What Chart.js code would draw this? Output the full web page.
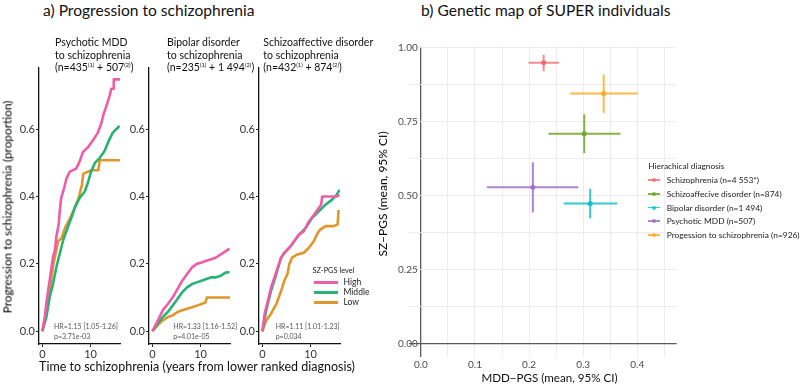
<!DOCTYPE html>
<html><head><meta charset="utf-8">
<script src="https://cdn.jsdelivr.net/npm/chart.js@4"></script>
<style>
body{margin:0;background:#fff;width:800px;height:387px;position:relative;overflow:hidden;font-family:Lato,'Open Sans',sans-serif;color:#1a1a1a}
canvas{position:absolute}
.t{position:absolute;white-space:nowrap}
.big{font-size:15.6px;line-height:15px;color:#111}
.sub{font-size:10.5px;line-height:12.5px;color:#111}
.sub sup{font-size:5.8px;vertical-align:4px;line-height:0}
.ax{font-size:12.5px;line-height:13px;color:#111}
.rot{transform:translate(-50%,-50%) rotate(-90deg)}
.ctr{transform:translate(-50%,-50%)}
.hr{font-size:7px;line-height:9.5px;color:#555}
.lg{font-size:8.5px;line-height:9px;color:#222}
.lgb{font-size:8.4px;line-height:10px;color:#222}
.sw{position:absolute;height:3px}
.swb{position:absolute;height:1.6px;width:12px}
.dot{position:absolute;width:4px;height:4px;border-radius:50%}
</style></head><body>
<canvas id="c1" width="125" height="300" style="left:0px;top:60px"></canvas>
<canvas id="c2" width="125" height="300" style="left:110px;top:60px"></canvas>
<canvas id="c3" width="125" height="300" style="left:220.3px;top:60px"></canvas>
<canvas id="cb" width="420" height="357" style="left:380px;top:30px"></canvas>
<div id="txt"></div>
<script>
// ---------- data: panel a (Kaplan-Meier cumulative progression) ----------
const kmXTicks = [0, 10];
const kmYTicks = [0, 0.2, 0.4, 0.6];
const levels = ['High', 'Middle', 'Low'];
const kmColors = ['#EF5DA8', '#27B373', '#E0962A'];

const mddHigh = [[0,0],[0.5,0.04],[0.8,0.08],[1.2,0.12],[1.7,0.17],[2.2,0.22],[2.6,0.24],[2.9,0.28],[3.4,0.32],[3.6,0.356],[3.9,0.395],[4.3,0.415],[4.5,0.424],[5.0,0.454],[5.7,0.474],[7.0,0.483],[7.7,0.503],[8.4,0.532],[9.5,0.547],[10.5,0.567],[11.5,0.59],[12.2,0.616],[12.6,0.64],[13.3,0.67],[13.95,0.70],[14.3,0.72],[14.8,0.72],[14.8,0.748],[16.1,0.748]];
const mddMiddle = [[0,0],[0.8,0.04],[1.5,0.10],[2.2,0.14],[2.9,0.19],[3.6,0.23],[4.3,0.27],[5.3,0.31],[6.0,0.336],[6.7,0.366],[7.7,0.395],[8.8,0.415],[9.5,0.444],[10.1,0.474],[10.9,0.50],[11.9,0.515],[12.9,0.535],[13.6,0.56],[14.6,0.59],[16.0,0.61]];
const mddLow = [[0,0],[0.9,0.07],[1.6,0.13],[2.3,0.2],[3.0,0.248],[3.3,0.268],[4.0,0.277],[4.7,0.307],[5.4,0.326],[6.4,0.356],[7.5,0.395],[8.2,0.434],[8.5,0.468],[10.2,0.478],[11.6,0.478],[11.9,0.508],[16.1,0.508]];

const bipHigh = [[0,0],[1.15,0.032],[2.15,0.062],[3.2,0.081],[4.2,0.10],[5.2,0.125],[6.2,0.15],[7.2,0.17],[8.2,0.189],[9.2,0.2],[10.2,0.204],[11.2,0.209],[12.2,0.214],[13.2,0.219],[14.2,0.228],[15.2,0.238],[16.0,0.245]];
const bipMiddle = [[0,0],[1.15,0.023],[2.15,0.042],[3.2,0.057],[4.2,0.076],[5.2,0.096],[6.2,0.116],[7.2,0.13],[8.2,0.14],[9.2,0.145],[10.2,0.15],[11.2,0.155],[12.2,0.16],[13.2,0.16],[14.2,0.165],[15.2,0.174],[16.0,0.176]];
const bipLow = [[0,0],[1.15,0.018],[2.15,0.032],[3.2,0.042],[4.2,0.047],[5.2,0.057],[6.2,0.062],[7.2,0.067],[8.2,0.071],[9.2,0.076],[10.2,0.081],[11.0,0.085],[11.3,0.10],[16.1,0.10]];

const sadHigh = [[0,0],[0.47,0.052],[1.15,0.091],[1.8,0.13],[2.5,0.16],[3.2,0.19],[3.9,0.219],[4.55,0.233],[5.6,0.248],[6.6,0.268],[7.6,0.287],[8.6,0.297],[9.65,0.326],[10.7,0.346],[11.7,0.366],[12.2,0.376],[12.4,0.40],[15.4,0.40],[16.0,0.405]];
const sadMiddle = [[0,0],[0.8,0.062],[1.8,0.12],[2.9,0.17],[3.9,0.219],[4.9,0.238],[6.2,0.258],[7.6,0.287],[9.0,0.307],[10.3,0.336],[11.7,0.356],[13.1,0.376],[14.4,0.39],[15.4,0.405],[16.0,0.42]];
const sadLow = [[0,0],[0.8,0.032],[1.8,0.052],[2.9,0.081],[3.9,0.12],[4.55,0.15],[5.2,0.17],[5.6,0.2],[6.2,0.219],[7.3,0.228],[8.6,0.233],[9.65,0.248],[10.7,0.268],[11.3,0.287],[12.0,0.302],[13.1,0.312],[14.8,0.312],[15.6,0.317],[15.8,0.36]];

const kmTitles = [['Psychotic MDD','to schizophrenia','(n=435<sup>(1)</sup> + 507<sup>(2)</sup>)'],
                  ['Bipolar disorder','to schizophrenia','(n=235<sup>(1)</sup> + 1 494<sup>(2)</sup>)'],
                  ['Schizoaffective disorder','to schizophrenia','(n=432<sup>(1)</sup> + 874<sup>(2)</sup>)']];
const kmHR = [['HR=1.15 [1.05-1.26]','p=3.71e-03'],['HR=1.33 [1.16-1.52]','p=4.01e-05'],['HR=1.11 [1.01-1.23]','p=0.034']];

// ---------- data: panel b (genetic map) ----------
const mapGroups = ['Schizophrenia (n=4 553*)','Schizoaffecive disorder (n=874)','Bipolar disorder (n=1 494)','Psychotic MDD (n=507)','Progession to schizophrenia (n=926)'];
const mapColors = ['rgba(242,100,100,0.75)','rgba(112,166,40,0.85)','rgba(0,190,200,0.8)','rgba(160,112,200,0.85)','rgba(255,168,30,0.8)'];
const mddMean = [0.227, 0.302, 0.313, 0.207, 0.338];
const mddLo   = [0.199, 0.236, 0.264, 0.122, 0.276];
const mddHi   = [0.255, 0.369, 0.363, 0.291, 0.401];
const szMean  = [0.950, 0.710, 0.474, 0.529, 0.846];
const szLo    = [0.921, 0.644, 0.425, 0.444, 0.781];
const szHi    = [0.977, 0.776, 0.524, 0.614, 0.910];
const mapXTicks = [0,0.05,0.1,0.15,0.2,0.25,0.3,0.35,0.4,0.45];
const mapYTicks = [0,0.125,0.25,0.375,0.5,0.625,0.75,0.875,1];

// ---------- charts ----------
function km(id, sets){
  new Chart(document.getElementById(id), {
    type:'line',
    data:{datasets: sets.map((d,i)=>({label:levels[i], data:d.map(p=>({x:p[0],y:p[1]})), borderColor:kmColors[i], borderWidth:2.6, pointRadius:0, tension:0, fill:false, borderJoinStyle:'round'}))},
    options:{responsive:false, animation:false, devicePixelRatio:1,
      layout:{padding:{top:5,right:5,left:0,bottom:0}},
      plugins:{legend:{display:false},tooltip:{enabled:false}},
      scales:{
        x:{type:'linear', min:-0.7, max:16.1,
           afterFit:s=>{s.height=16;},
           afterBuildTicks:s=>{s.ticks=kmXTicks.map(v=>({value:v}));},
           ticks:{callback:v=>String(v), font:{family:'Lato',size:11}, color:'#333', padding:1, maxRotation:0, autoSkip:false},
           grid:{drawOnChartArea:false, tickLength:3, color:'#222'},
           border:{color:'#111', width:1.3}},
        y:{type:'linear', min:-0.038, max:0.783,
           afterFit:s=>{s.width=39;},
           afterBuildTicks:s=>{s.ticks=kmYTicks.map(v=>({value:v}));},
           ticks:{callback:v=>v.toFixed(1), font:{family:'Lato',size:11}, color:'#333', padding:1},
           grid:{drawOnChartArea:false, tickLength:3, color:'#222'},
           border:{color:'#111', width:1.3}}
      }}});
}
km('c1',[mddHigh,mddMiddle,mddLow]);
km('c2',[bipHigh,bipMiddle,bipLow]);
km('c3',[sadHigh,sadMiddle,sadLow]);

const mapSets = [];
mapGroups.forEach((g,i)=>{
  mapSets.push({label:g, data:[{x:mddLo[i],y:szMean[i]},{x:mddHi[i],y:szMean[i]}], borderColor:mapColors[i], borderWidth:2, showLine:true, pointRadius:0});
  mapSets.push({label:g, data:[{x:mddMean[i],y:szLo[i]},{x:mddMean[i],y:szHi[i]}], borderColor:mapColors[i], borderWidth:2, showLine:true, pointRadius:0});
  mapSets.push({label:g, data:[{x:mddMean[i],y:szMean[i]}], backgroundColor:mapColors[i], borderColor:mapColors[i], pointRadius:2.2, showLine:false});
});
new Chart(document.getElementById('cb'), {
  type:'scatter',
  data:{datasets:mapSets},
  options:{responsive:false, animation:false, devicePixelRatio:1,
    layout:{padding:{top:16.7,right:123.3,left:0,bottom:0}},
    plugins:{legend:{display:false},tooltip:{enabled:false}},
    scales:{
      x:{type:'linear', min:-0.022, max:0.473,
         afterFit:s=>{s.height=30.3;},
         afterBuildTicks:s=>{s.ticks=mapXTicks.map(v=>({value:v}));},
         ticks:{callback:v=>(Math.abs(v*10-Math.round(v*10))<1e-6? v.toFixed(1):''), font:{family:'Lato',size:10}, color:'#4D4D4D', padding:2, maxRotation:0, autoSkip:false},
         grid:{drawTicks:false, color:c=>c.tick&&c.tick.value===0?'#5a5a5a':'#EBEBEB', lineWidth:c=>c.tick&&c.tick.value===0?1.3:0.9},
         border:{display:false}},
      y:{type:'linear', min:-0.043, max:1.004,
         afterFit:s=>{s.width=29;},
         afterBuildTicks:s=>{s.ticks=mapYTicks.map(v=>({value:v}));},
         ticks:{callback:v=>(Math.abs(v*4-Math.round(v*4))<1e-6? v.toFixed(2):''), font:{family:'Lato',size:10}, color:'#4D4D4D', mirror:true, padding:-11, autoSkip:false},
         grid:{drawTicks:false, color:c=>c.tick&&c.tick.value===0?'#5a5a5a':'#EBEBEB', lineWidth:c=>c.tick&&c.tick.value===0?1.3:0.9},
         border:{display:false}}
    }}});

// ---------- text ----------
const T = document.getElementById('txt');
function add(html, cls, style){ const d=document.createElement('div'); d.className='t '+cls; d.innerHTML=html; d.setAttribute('style',style); T.appendChild(d); return d; }
add('a) Progression to schizophrenia','big','left:43px;top:3px');
add('b) Genetic map of SUPER individuals','big','left:421px;top:3px');
const subLeft=[55,167,263.3];
const hrLeft=[54,173.3,275.7];
kmTitles.forEach((lines,i)=>{
  add(lines.join('<br>'),'sub','left:'+subLeft[i]+'px;top:36px');
  add(kmHR[i].join('<br>'),'hr','left:'+hrLeft[i]+'px;top:322px');
});
add('Progression to schizophrenia (proportion)','ax rot','left:7px;top:207px;font-size:11.8px;color:#000');
add('Time to schizophrenia (years from lower ranked diagnosis)','ax ctr','left:197px;top:366px');
add('SZ\u2212PGS (mean, 95% CI)','ax rot','left:382px;top:194px;font-size:12px;color:#000');
add('MDD\u2212PGS (mean, 95% CI)','ax ctr','left:549.5px;top:377px;font-size:11.6px');
// legend a
add('SZ-PGS level','lg','left:312.5px;top:266px;font-size:7.4px');
levels.forEach((l,i)=>{
  const y=[282.7,292.7,302.7][i];
  const s=document.createElement('div'); s.className='sw'; s.setAttribute('style','left:314px;width:24px;top:'+(y-1.5)+'px;background:'+kmColors[i]); T.appendChild(s);
  add(l,'lg','left:343.5px;top:'+(y-4.5)+'px');
});
// legend b
add('Hierachical diagnosis','lg','left:648.3px;top:162px;font-size:8.3px');
mapGroups.forEach((g,i)=>{
  const y=180+i*13.75;
  const s=document.createElement('div'); s.className='swb'; s.setAttribute('style','left:648px;top:'+(y-0.8)+'px;background:'+mapColors[i]); T.appendChild(s);
  const d=document.createElement('div'); d.className='dot'; d.setAttribute('style','left:652px;top:'+(y-2)+'px;background:'+mapColors[i]); T.appendChild(d);
  add(g,'lgb','left:666.7px;top:'+(y-5)+'px');
});
</script>
</body></html>
